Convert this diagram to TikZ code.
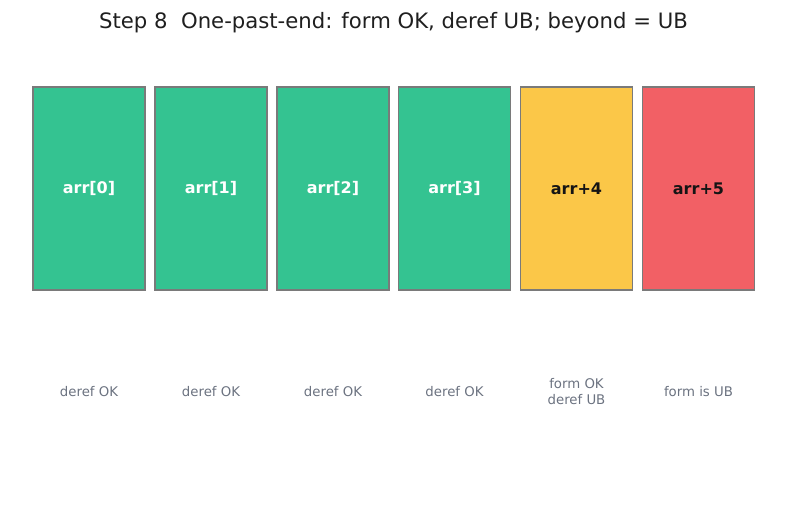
\documentclass[tikz,border=0pt]{standalone}
\usepackage{fontspec}
\setmainfont{DejaVu Sans}
\definecolor{okgreen}{HTML}{34C391}
\definecolor{warnyellow}{HTML}{FBC748}
\definecolor{badred}{HTML}{F26065}
\definecolor{edgegray}{HTML}{7A7A7A}
\definecolor{labelgray}{HTML}{6B7280}
\definecolor{titlecol}{HTML}{1F1F1F}
\begin{document}
\begin{tikzpicture}[x=1pt,y=1pt,
  cell/.style={draw=edgegray, line width=1.6pt, minimum width=112pt, minimum height=203pt, inner sep=0pt,
    font=\fontsize{16}{19}\selectfont\bfseries},
  note/.style={text=labelgray, font=\fontsize{13.3}{16}\selectfont, align=center}]
\useasboundingbox (0,0) rectangle (787,508);
\node[text=titlecol, font=\fontsize{21.2}{25}\selectfont] (title) at (393.5,485) {Step 8\ \ One-past-end: form OK, deref UB; beyond = UB};
\node[cell, fill=okgreen, text=white] (c0) at (89,319.5) {arr[0]};
\node[cell, fill=okgreen, text=white] (c1) at (211,319.5) {arr[1]};
\node[cell, fill=okgreen, text=white] (c2) at (333,319.5) {arr[2]};
\node[cell, fill=okgreen, text=white] (c3) at (454.5,319.5) {arr[3]};
\node[cell, fill=warnyellow, text=black!92] (c4) at (576.5,319.5) {arr+4};
\node[cell, fill=badred, text=black!92] (c5) at (698.5,319.5) {arr+5};
\node[note] (n0) at (89,116) {deref OK};
\node[note] (n1) at (211,116) {deref OK};
\node[note] (n2) at (333,116) {deref OK};
\node[note] (n3) at (454.5,116) {deref OK};
\node[note] (n4) at (576.5,116) {form OK\\deref UB};
\node[note] (n5) at (698.5,116) {form is UB};
\end{tikzpicture}
\end{document}
